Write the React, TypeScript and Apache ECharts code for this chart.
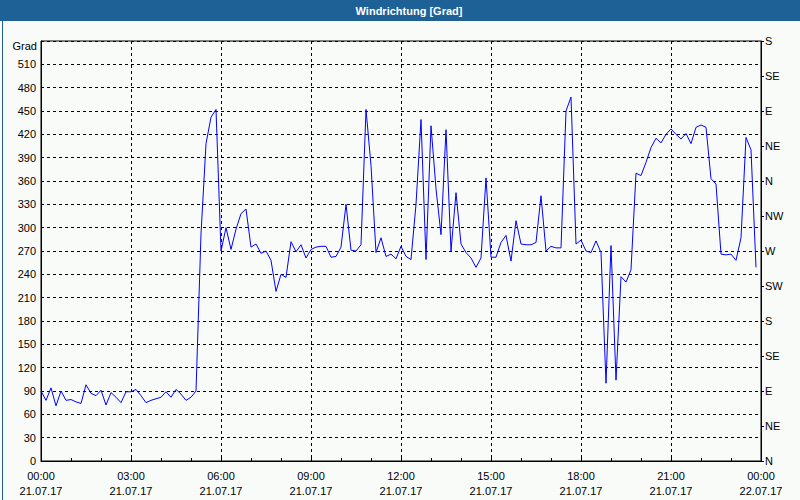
import React, { useEffect, useRef } from "react";
import * as echarts from "echarts";

// Wind direction values every 10 minutes from 00:00 to 23:50 (degrees)
const windValues: number[] = [
  90, 78, 94, 71, 90, 78, 79, 76, 74, 98,
  87, 84, 91, 72, 88, 82, 75, 89, 89, 92,
  84, 75, 78, 80, 82, 89, 82, 92, 86, 78,
  82, 90, 292, 408, 442, 452, 270, 300, 272, 298,
  318, 324, 275, 279, 267, 270, 258, 218, 240, 236,
  282, 269, 278, 261, 272, 275, 276, 276, 262, 263,
  275, 330, 271, 270, 278, 452, 380, 268, 287, 263,
  266, 260, 276, 263, 259, 330, 439, 259, 431, 350,
  291, 426, 270, 345, 279, 268, 261, 249, 261, 364,
  262, 262, 281, 290, 257, 309, 279, 278, 278, 281,
  341, 270, 276, 274, 274, 450, 468, 279, 284, 270,
  268, 283, 268, 100, 277, 104, 237, 230, 246, 370,
  367, 384, 403, 415, 409, 420, 427, 420, 414, 421,
  408, 429, 432, 429, 363, 356, 266, 265, 266, 258,
  287, 416, 400, 249,
];
const stepMinutes = 10;

const timeLabels = ["00:00", "03:00", "06:00", "09:00", "12:00", "15:00", "18:00", "21:00", "00:00"];
const dateLabels = ["21.07.17", "21.07.17", "21.07.17", "21.07.17", "21.07.17", "21.07.17", "21.07.17", "21.07.17", "22.07.17"];
const directionLabels = ["N", "NE", "E", "SE", "S", "SW", "W", "NW", "N", "NE", "E", "SE", "S"];

const titleText = "Windrichtung [Grad]";
const unitText = "Grad";

const FONT = "Liberation Sans";
const BAR = "#1d6196";
const BG = "#f9fbf9";

export default function App() {
  const ref = useRef<HTMLDivElement>(null);
  useEffect(() => {
    if (!ref.current) return;
    const chart = echarts.init(ref.current, null, { renderer: "svg" });
    const data = windValues.map((v, i) => [i * stepMinutes, v]);
    chart.setOption({
      animation: false,
      backgroundColor: BG,
      textStyle: { fontFamily: FONT },
      graphic: [
        { type: "rect", left: 0, top: 0, shape: { width: 800, height: 21 }, style: { fill: BAR }, silent: true },
        { type: "rect", left: 0, top: 0, shape: { width: 799, height: 499 }, style: { fill: "none", stroke: BAR, lineWidth: 1 }, silent: true, z: 100 },
        { type: "text", x: 409, y: 11, style: { text: titleText, fill: "#ffffff", font: `bold 11px "${FONT}"`, textAlign: "center", textVerticalAlign: "middle" } },
        { type: "text", x: 37, y: 46, style: { text: unitText, fill: "#000000", font: `11px "${FONT}"`, textAlign: "right", textVerticalAlign: "middle" } },
      ],
      grid: { left: 41, top: 41, right: 39, bottom: 39, show: true, borderColor: "#000", borderWidth: 1, backgroundColor: "transparent" },
      xAxis: {
        type: "value",
        min: 0,
        max: 1440,
        interval: 180,
        axisLine: { show: true, lineStyle: { color: "#000", width: 1 } },
        axisTick: { show: true, inside: true, length: 3, lineStyle: { color: "#000" } },
        minorTick: { show: true, splitNumber: 3, length: 3, lineStyle: { color: "#000" } },
        splitLine: { show: true, lineStyle: { color: "#000", type: [3, 3], width: 1 } },
        axisLabel: {
          color: "#000",
          fontSize: 11,
          fontFamily: FONT,
          margin: 7,
          lineHeight: 15,
          formatter: (v: number) => {
            const i = Math.round(v / 180);
            return `${timeLabels[i]}\n${dateLabels[i]}`;
          },
        },
      },
      yAxis: [
        {
          type: "value",
          min: 0,
          max: 540,
          interval: 30,
          position: "left",
          axisLine: { show: true, lineStyle: { color: "#000", width: 1 } },
          axisTick: { show: false },
          splitLine: { show: true, lineStyle: { color: "#000", type: [3, 3], width: 1 } },
          axisLabel: {
            color: "#000",
            fontSize: 11,
            fontFamily: FONT,
            margin: 5,
            formatter: (v: number) => (v >= 540 ? "" : String(v)),
          },
        },
        {
          type: "value",
          min: 0,
          max: 540,
          interval: 45,
          position: "right",
          axisLine: { show: true, lineStyle: { color: "#000", width: 1 } },
          axisTick: { show: true, inside: false, length: 3, lineStyle: { color: "#000" } },
          splitLine: { show: false },
          axisLabel: {
            color: "#000",
            fontSize: 11,
            fontFamily: FONT,
            margin: 4,
            formatter: (v: number) => directionLabels[Math.round(v / 45)],
          },
        },
      ],
      series: [
        {
          type: "line",
          data,
          yAxisIndex: 0,
          showSymbol: false,
          symbol: "none",
          lineStyle: { color: "#0000ff", width: 1 },
          itemStyle: { color: "#0000ff" },
        },
      ],
    });
    return () => chart.dispose();
  }, []);
  return (
    <div
      ref={ref}
      style={{ position: "fixed", left: 0, top: 0, width: 800, height: 500 }}
    />
  );
}
